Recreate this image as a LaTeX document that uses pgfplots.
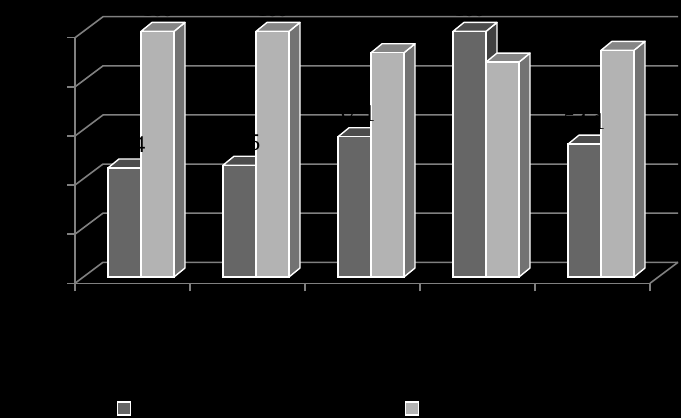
\documentclass[border=0pt]{standalone}
\usepackage{pgfplots}
\usepackage{fontspec}
\setmainfont{Liberation Serif}
\pgfplotsset{compat=1.18}
\newlength{\px}\setlength{\px}{0.75pt}
\definecolor{gridg}{HTML}{808080}
\definecolor{darkF}{HTML}{666666}
\definecolor{darkS}{HTML}{404040}
\definecolor{darkT}{HTML}{4D4D4D}
\definecolor{lightF}{HTML}{B3B3B3}
\definecolor{lightS}{HTML}{737373}
\definecolor{lightT}{HTML}{868686}
% #1 bar centre (x), #2 value, #3 front, #4 side, #5 top
\newcommand{\threedbar}[5]{%
  \pgfmathsetmacro{\xl}{#1-0.1435}%
  \pgfmathsetmacro{\xr}{#1+0.1435}%
  \pgfmathsetmacro{\xlb}{\xl+0.0957}%
  \pgfmathsetmacro{\xrb}{\xr+0.0957}%
  \pgfmathsetmacro{\vb}{#2+3.66}%
  \pgfmathsetmacro{\zb}{3.66}%
  \addplot[fill=#4,draw=white,line width=1.4\px,yshift=6.3\px,line join=round] coordinates {(\xr,0) (\xrb,\zb) (\xrb,\vb) (\xr,#2)} -- cycle;
  \addplot[fill=#5,draw=white,line width=1.4\px,yshift=6.3\px,line join=round] coordinates {(\xl,#2) (\xlb,\vb) (\xrb,\vb) (\xr,#2)} -- cycle;
  \addplot[ybar,bar width=33\px,bar shift=0pt,fill=#3,draw=white,line width=1.4\px,yshift=6.3\px] coordinates {(#1,#2)};
}
\pgfplotsset{barlabel/.style={draw=none,mark=none,point meta=explicit symbolic,
  nodes near coords,
  every node near coord/.style={black,anchor=base,inner sep=0pt,yshift=21.3\px,font=\fontsize{#1}{#1}\selectfont}}}
\begin{document}
\begin{tikzpicture}
\fill[black,use as bounding box] (0,0) rectangle (681\px,418\px);
\begin{axis}[
  at={(75\px,134.7\px)}, anchor=south west,
  scale only axis, width=575\px, height=245.6\px,
  xmin=0, xmax=5, ymin=0, ymax=100,
  axis x line=bottom, axis y line=left,
  axis line style={gridg,line width=1.6\px,-},
  tick style={gridg,line width=1.6\px},
  tick align=outside, major tick length=8\px,
  xtick={0,1,2,3,4,5}, xticklabels={},
  ytick={0,20,40,60,80,100},
  yticklabel style={black,font=\fontsize{15}{15}\selectfont},
  /pgf/number format/assume math mode=true,
  clip=false,
]
% walls and grid: front tick -> back wall -> right end
\pgfplotsinvokeforeach{0,20,40,60,80,100}{
  \pgfmathsetmacro{\vb}{#1+8.55}
  \addplot[gridg,line width=1.6\px] coordinates {(0,#1) (0.2435,\vb) (5.2435,\vb)};
}
\addplot[gridg,line width=1.6\px] coordinates {(5,0) (5.2435,8.55)};
% bars
\threedbar{0.4304}{44.4}{darkF}{darkS}{darkT}
\threedbar{0.7174}{100}{lightF}{lightS}{lightT}
\threedbar{1.4304}{45.5}{darkF}{darkS}{darkT}
\threedbar{1.7174}{100}{lightF}{lightS}{lightT}
\threedbar{2.4304}{57.1}{darkF}{darkS}{darkT}
\threedbar{2.7174}{91.3}{lightF}{lightS}{lightT}
\threedbar{3.4304}{100}{darkF}{darkS}{darkT}
\threedbar{3.7174}{87.5}{lightF}{lightS}{lightT}
\threedbar{4.4304}{54.1}{darkF}{darkS}{darkT}
\threedbar{4.7174}{92.3}{lightF}{lightS}{lightT}
% data labels
\addplot[barlabel=18] table[meta=l,row sep=\\] {x y l\\
  0.4304 44.4 44.4\\ 1.4304 45.5 45.5\\ 2.4304 57.1 57.1\\ 4.4304 54.1 54.1\\
  2.7174 91.3 91.3\\ 4.7174 92.3 92.3\\};
\addplot[barlabel=15] table[meta=l,row sep=\\] {x y l\\
  0.7174 100 100\\ 1.7174 100 100\\ 3.4304 100 100\\};
% legend keys
\addplot[only marks,mark=square*,mark size=6.5\px,mark options={fill=darkF,draw=white,line width=1.8\px}] coordinates {(0.426,-51)};
\addplot[only marks,mark=square*,mark size=6.5\px,mark options={fill=lightF,draw=white,line width=1.8\px}] coordinates {(2.930,-51)};
\end{axis}
\end{tikzpicture}
\end{document}
